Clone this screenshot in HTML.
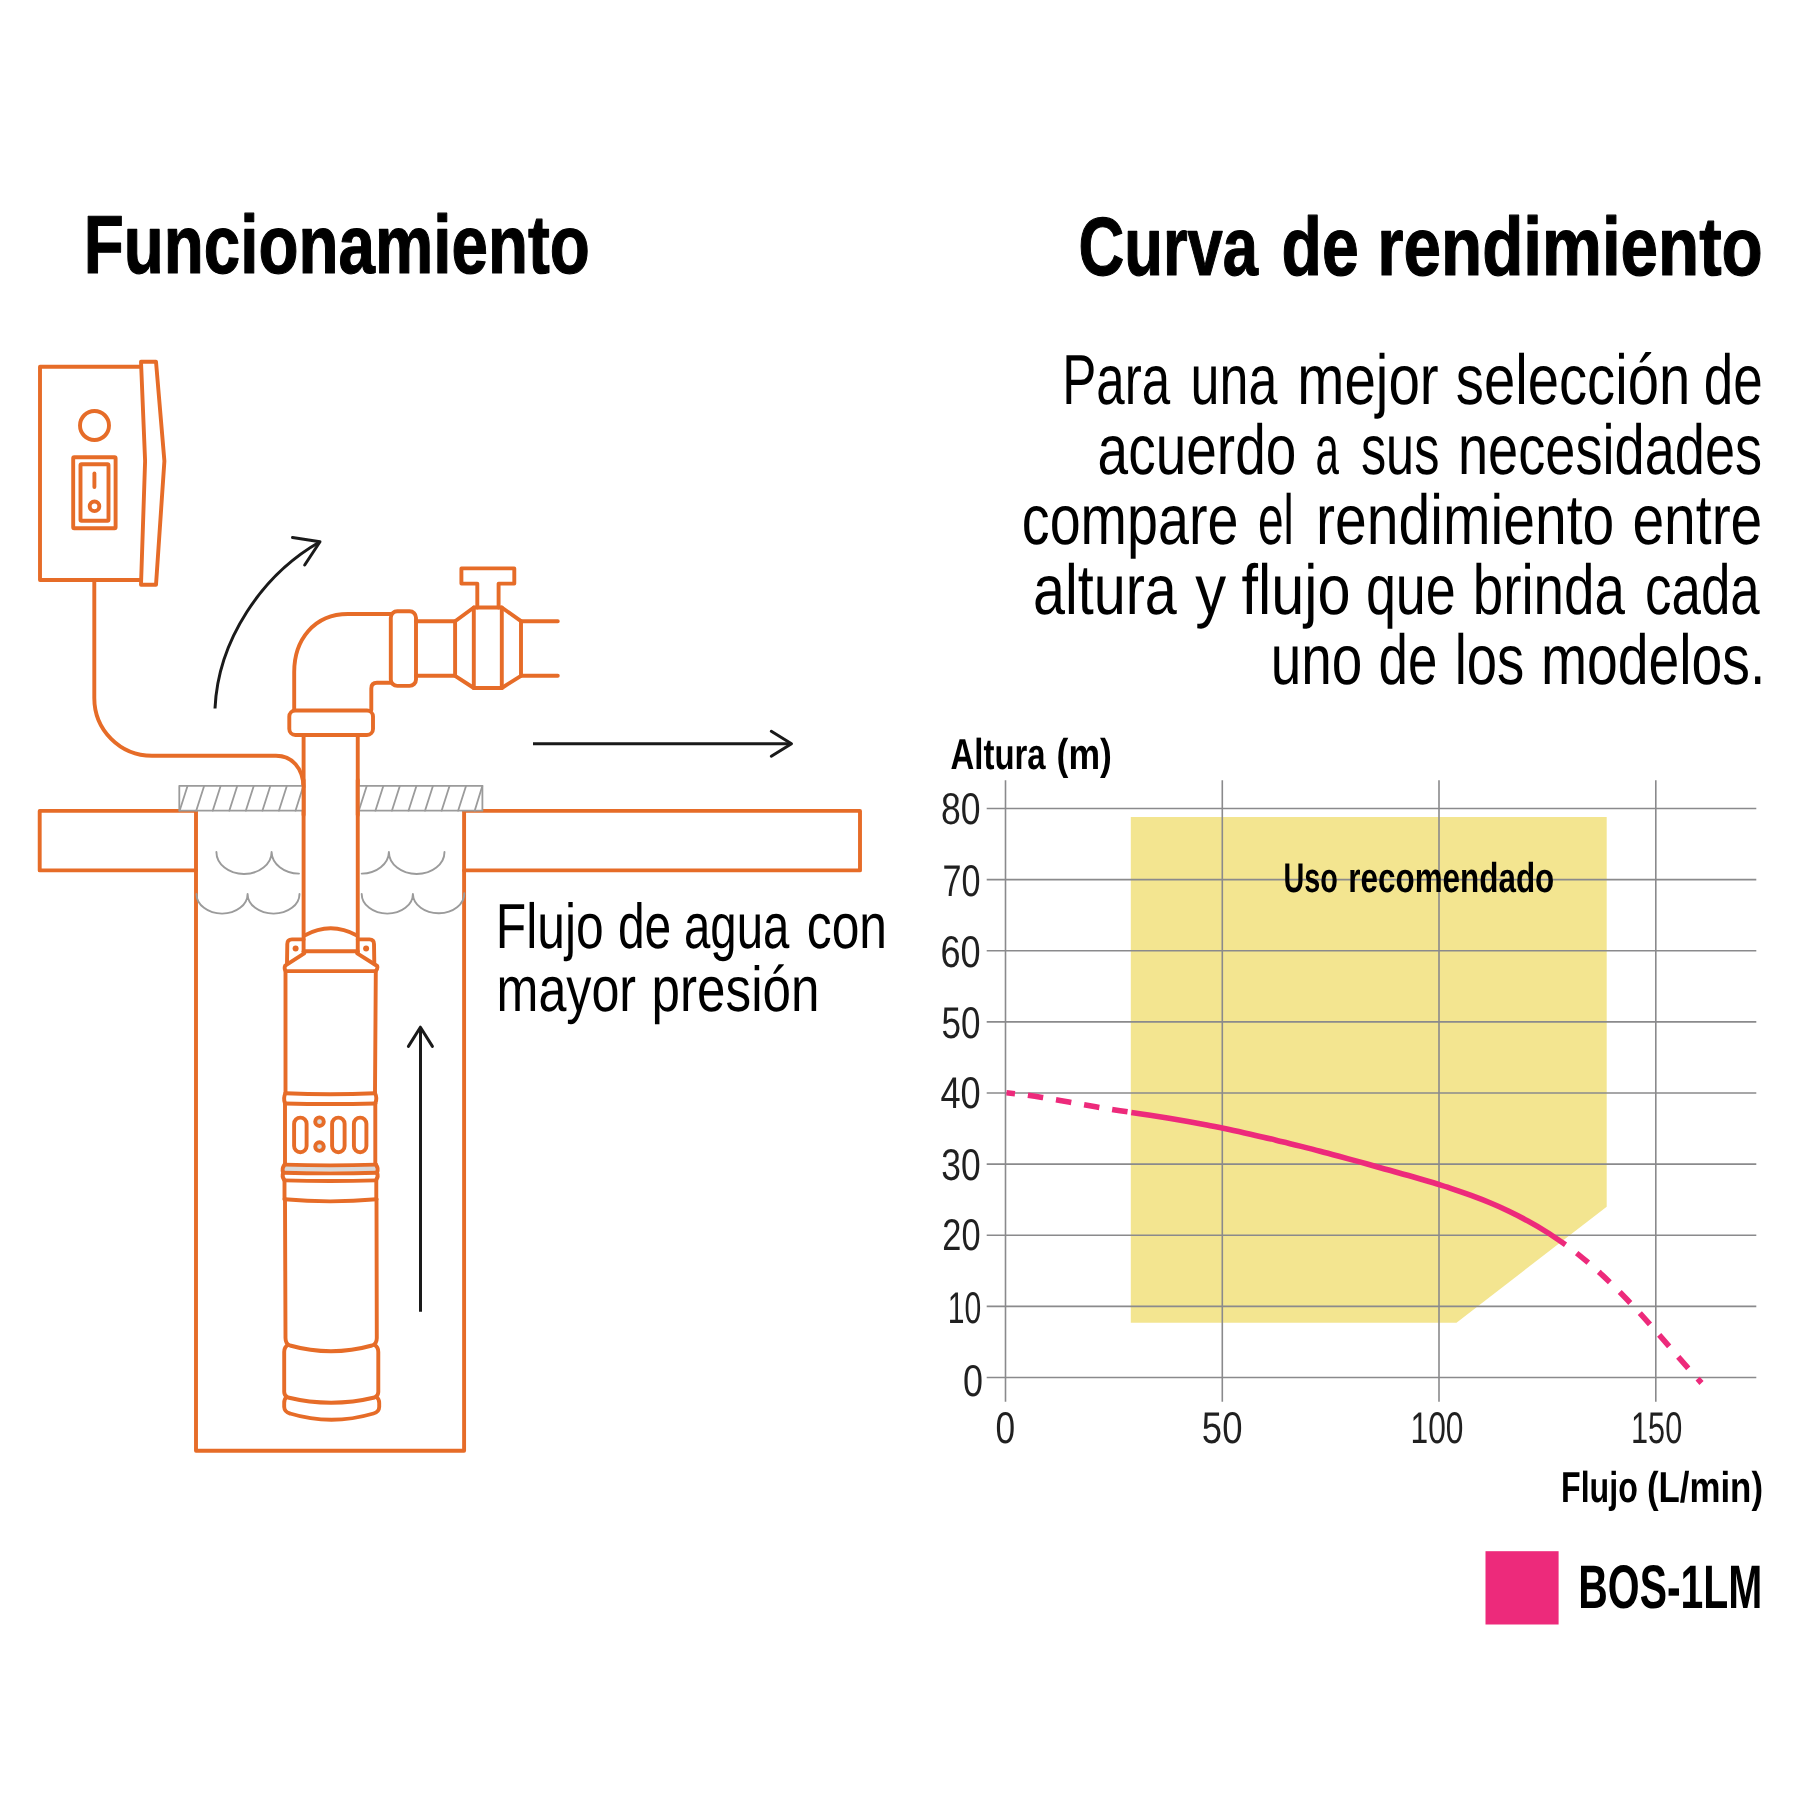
<!DOCTYPE html>
<html lang="es"><head><meta charset="utf-8"><title>Funcionamiento - Curva de rendimiento</title>
<style>html,body{margin:0;padding:0;background:#fff}svg{display:block}text{font-family:"Liberation Sans",sans-serif;fill:#000;text-rendering:geometricPrecision}.o{fill:none;stroke:#E66C28;stroke-width:3.9;stroke-linecap:round;stroke-linejoin:round}.g{fill:none;stroke:#9b9b9b;stroke-width:1.9;stroke-linecap:round;stroke-linejoin:round}.k{fill:none;stroke:#1a1a1a;stroke-width:3.0;stroke-linecap:round;stroke-linejoin:round}.gr{fill:none;stroke:#8a8a8c;stroke-width:1.6}.ax{fill:#231f20}</style></head><body>
<svg width="1800" height="1800" viewBox="0 0 1800 1800">
<rect width="1800" height="1800" fill="#fff"/>
<text y="273.3" font-size="82.5" font-weight="bold" stroke="#000" stroke-width="1.20" stroke-linejoin="round"><tspan x="83.72" textLength="506.05" lengthAdjust="spacingAndGlyphs">Funcionamiento</tspan></text>
<text y="275.2" font-size="82.5" font-weight="bold" stroke="#000" stroke-width="1.20" stroke-linejoin="round"><tspan x="1078.60" textLength="179.40" lengthAdjust="spacingAndGlyphs">Curva</tspan> <tspan x="1281.55" textLength="77.09" lengthAdjust="spacingAndGlyphs">de</tspan> <tspan x="1377.34" textLength="385.43" lengthAdjust="spacingAndGlyphs">rendimiento</tspan></text>
<text y="404.0" font-size="70.8" font-weight="normal"><tspan x="1062.28" textLength="107.91" lengthAdjust="spacingAndGlyphs">Para</tspan> <tspan x="1190.61" textLength="86.77" lengthAdjust="spacingAndGlyphs">una</tspan> <tspan x="1297.32" textLength="141.38" lengthAdjust="spacingAndGlyphs">mejor</tspan> <tspan x="1455.84" textLength="234.32" lengthAdjust="spacingAndGlyphs">selección</tspan> <tspan x="1703.71" textLength="58.91" lengthAdjust="spacingAndGlyphs">de</tspan></text>
<text y="474.0" font-size="70.8" font-weight="normal"><tspan x="1097.58" textLength="198.73" lengthAdjust="spacingAndGlyphs">acuerdo</tspan> <tspan x="1315.44" textLength="23.41" lengthAdjust="spacingAndGlyphs">a</tspan> <tspan x="1360.92" textLength="78.47" lengthAdjust="spacingAndGlyphs">sus</tspan> <tspan x="1458.00" textLength="304.12" lengthAdjust="spacingAndGlyphs">necesidades</tspan></text>
<text y="544.0" font-size="70.8" font-weight="normal"><tspan x="1021.83" textLength="216.54" lengthAdjust="spacingAndGlyphs">compare</tspan> <tspan x="1258.00" textLength="35.85" lengthAdjust="spacingAndGlyphs">el</tspan> <tspan x="1316.04" textLength="298.19" lengthAdjust="spacingAndGlyphs">rendimiento</tspan> <tspan x="1632.44" textLength="129.85" lengthAdjust="spacingAndGlyphs">entre</tspan></text>
<text y="614.0" font-size="70.8" font-weight="normal"><tspan x="1033.00" textLength="143.85" lengthAdjust="spacingAndGlyphs">altura</tspan> <tspan x="1195.31" textLength="30.92" lengthAdjust="spacingAndGlyphs">y</tspan> <tspan x="1241.44" textLength="109.00" lengthAdjust="spacingAndGlyphs">flujo</tspan> <tspan x="1365.88" textLength="89.98" lengthAdjust="spacingAndGlyphs">que</tspan> <tspan x="1472.75" textLength="152.21" lengthAdjust="spacingAndGlyphs">brinda</tspan> <tspan x="1645.01" textLength="114.73" lengthAdjust="spacingAndGlyphs">cada</tspan></text>
<text y="684.0" font-size="70.8" font-weight="normal"><tspan x="1270.70" textLength="91.55" lengthAdjust="spacingAndGlyphs">uno</tspan> <tspan x="1378.54" textLength="58.76" lengthAdjust="spacingAndGlyphs">de</tspan> <tspan x="1454.67" textLength="69.63" lengthAdjust="spacingAndGlyphs">los</tspan> <tspan x="1541.03" textLength="224.31" lengthAdjust="spacingAndGlyphs">modelos.</tspan></text>
<text y="947.9" font-size="63.6" font-weight="normal"><tspan x="495.81" textLength="107.99" lengthAdjust="spacingAndGlyphs">Flujo</tspan> <tspan x="617.95" textLength="53.34" lengthAdjust="spacingAndGlyphs">de</tspan> <tspan x="683.97" textLength="105.33" lengthAdjust="spacingAndGlyphs">agua</tspan> <tspan x="806.86" textLength="80.17" lengthAdjust="spacingAndGlyphs">con</tspan></text>
<text y="1011.0" font-size="63.6" font-weight="normal"><tspan x="496.59" textLength="139.51" lengthAdjust="spacingAndGlyphs">mayor</tspan> <tspan x="651.55" textLength="167.91" lengthAdjust="spacingAndGlyphs">presión</tspan></text>
<g class="o">
<path d="M140.8,366.7 H40 V580 H140.8"/>
<path d="M141,361.7 H156 L164.4,461 L156,584.8 H141 L145.1,461 Z"/>
<circle cx="94.5" cy="425.5" r="14.5"/>
<rect x="73.2" y="457.2" width="42.4" height="71" rx="1"/>
<rect x="80.5" y="464.3" width="28" height="56.4" rx="1"/>
<path d="M94.4,473.5 V487"/>
<circle cx="94.5" cy="506.3" r="4.8"/>
<path d="M94.3,580 V698 C94.3,730 120,755.8 152,755.8 H276 C292,755.8 303,768 303.5,787"/>
<path d="M294.2,710 V672 C294.2,640 314,614 348,614 H392"/>
<path d="M371.3,710 V688.5 Q371.3,682.8 377,682.8 H392"/>
<rect x="390.8" y="611.2" width="25.2" height="74.7" rx="6.5" fill="#fff"/>
<rect x="289.3" y="710.5" width="83.7" height="24.5" rx="6" fill="#fff"/>
<path d="M303.6,735 V953 M357.75,735 V953"/>
<path d="M416,621.2 H455.1 M416,675.8 H455.1"/>
<path d="M455.1,621.2 L473.8,607.5 H501.8 L521,621.2 V675.8 L501.8,688 H473.8 L455.1,675.8 Z"/>
<path d="M473.8,607.5 V688 M501.8,607.5 V688"/>
<path d="M521,621.2 H557.8 M521,675.8 H557.8"/>
<path d="M477.3,607.5 V583.6 H461.4 V568.4 H514.3 V583.6 H498.6 V607.5"/>
<path d="M196,810.9 H39.7 V870.4 H196"/>
<path d="M464.1,810.9 H860 V870.4 H464.1"/>
<path d="M196,810.9 V1450.8 H464.1 V810.9"/>
<path d="M304.5,935.5 Q330.7,921 357,935.5"/>
<path d="M303.6,951.3 H357.75"/>
<path d="M303.6,939.4 H292 Q287.3,939.4 287.3,944 L287,963.5"/>
<path d="M357.75,939.4 H369.5 Q374,939.4 374,944 L374.3,963.5"/>
<path d="M304.2,953.3 L285.2,965.7 Q284,968 285.5,971 V1093"/>
<path d="M357.2,953.3 L377.2,966 Q378,968.5 375.8,971 L375,1093"/>
<path d="M285.5,971.1 H375.8"/>
<path d="M285.5,1093 Q283,1098 285,1103.5 M375,1093 Q377.5,1098 375.3,1103.5"/>
<path d="M285.5,1093.2 Q330,1095.2 375,1093.2 M285,1103.5 Q330,1104.6 375.3,1103.5"/>
<path d="M285,1103.5 V1164.5 M375.3,1103.5 V1164.5"/>
<rect x="294.1" y="1117.6" width="12.5" height="34.7" rx="6.25"/>
<rect x="332.1" y="1117.6" width="12.5" height="34.7" rx="6.25"/>
<rect x="353.9" y="1117.6" width="12.5" height="34.7" rx="6.25"/>
<circle cx="319.5" cy="1121.7" r="4.3" fill="#dcdcdc"/>
<circle cx="319.5" cy="1146.6" r="4.3" fill="#dcdcdc"/>
</g>
<rect x="284" y="1165.5" width="92.5" height="6" fill="#d9d9d9"/>
<g class="o">
<path d="M284.5,1164.6 Q330,1166.2 376,1164.6 M283.2,1172.7 Q330,1174 377,1172.7 M284.5,1180.4 Q330,1181.6 376,1180.4"/>
<path d="M284.5,1164.6 Q281.5,1168.5 283.2,1172.7 Q281.5,1176.5 284.5,1180.4 M376,1164.6 Q378.8,1168.5 377,1172.7 Q378.8,1176.5 376,1180.4"/>
<path d="M284.5,1180.4 V1199.3 M376.3,1180.4 V1199.3"/>
<path d="M284.5,1199.3 Q330,1203.5 376.5,1199.3"/>
<path d="M285,1199.3 L285.5,1338 Q285.5,1344 290,1345.5 Q331,1357 372,1345.5 Q376.8,1344 376.8,1338 L376.5,1199.3"/>
<path d="M288,1345 Q284.2,1347 284.2,1352 V1392 Q284.2,1396 288,1397.5 Q331,1408 374.5,1397.5 Q378.3,1396 378.3,1392 V1352 Q378.3,1347 374.5,1345"/>
<path d="M286.5,1397 Q284.2,1399 284.2,1403 V1407 Q284.5,1412 290,1413.5 Q331,1426 373.5,1413.5 Q379,1412 379.2,1407 V1403 Q379.2,1399 376.5,1397"/>
</g>
<circle cx="295.6" cy="948.4" r="3" fill="#E66C28"/>
<circle cx="366.1" cy="948.4" r="3" fill="#E66C28"/>
<g class="g" style="stroke-width:1.8">
<rect x="179.3" y="785.8" width="124.1" height="24.9" fill="#fff"/>
<path d="M179.6,810.7 L187.6,785.8 M196.2,810.7 L204.2,785.8 M212.7,810.7 L220.7,785.8 M229.3,810.7 L237.3,785.8 M245.8,810.7 L253.8,785.8 M262.4,810.7 L270.4,785.8 M278.9,810.7 L286.9,785.8 M295.5,810.7 L303.4,785.8 "/>
<rect x="358.5" y="785.8" width="123.9" height="24.9" fill="#fff"/>
<path d="M358.8,810.7 L366.8,785.8 M375.4,810.7 L383.4,785.8 M391.9,810.7 L399.9,785.8 M408.5,810.7 L416.5,785.8 M425.0,810.7 L433.0,785.8 M441.6,810.7 L449.6,785.8 M458.1,810.7 L466.1,785.8 M474.7,810.7 L482.4,785.8 "/>
</g>
<g class="o"><path d="M303.6,780 V815 M357.75,780 V815"/></g>
<g class="g">
<path d="M216.4,852 A27.6,22 0 0 0 271.6,852 A27.6,22 0 0 0 299,873.6"/>
<path d="M361.7,873.6 A27.4,22 0 0 0 388.9,852 A27.8,22 0 0 0 444.5,852"/>
<path d="M196.5,893.9 A25.5,19.7 0 0 0 247.6,893.9 A25.9,19.7 0 0 0 299.5,893.9"/>
<path d="M361.7,893.9 A25.6,19.7 0 0 0 412.9,893.9 A25.7,19.7 0 0 0 464.3,893.2"/>
</g>
<g class="k" style="stroke-linecap:butt">
<path d="M215,708.5 C218,640 262,575 319.5,542"/>
<path d="M533,743.7 H790.5"/>
<path d="M420.5,1311.8 V1028"/>
</g>
<g class="k">
<path d="M292.5,537.5 L320,541.7 L304.7,565"/>
<path d="M771.3,731.3 L791.5,743.7 L771.3,756.2"/>
<path d="M408.4,1046.4 L420.4,1027.2 L432.4,1046.4"/>
</g>
<polygon points="1130.8,817 1606.7,817 1606.7,1206.7 1456.5,1322.8 1130.8,1322.8" fill="#F3E590"/>
<g class="gr">
<path d="M986.7,1377.5 H1756.3 M986.7,1306.4 H1756.3 M986.7,1235.2 H1756.3 M986.7,1164.1 H1756.3 M986.7,1093.0 H1756.3 M986.7,1021.9 H1756.3 M986.7,950.8 H1756.3 M986.7,879.6 H1756.3 M986.7,808.5 H1756.3 M1005.5,780.3 V1401.7 M1222.3,780.3 V1401.7 M1439.0,780.3 V1401.7 M1655.8,780.3 V1401.7 "/>
</g>
<text y="824.4" font-size="44.5" font-weight="normal" class="ax" style="filter:grayscale(1)"><tspan x="941.07" textLength="39.55" lengthAdjust="spacingAndGlyphs">80</tspan></text>
<text y="895.5" font-size="44.5" font-weight="normal" class="ax" style="filter:grayscale(1)"><tspan x="942.61" textLength="37.99" lengthAdjust="spacingAndGlyphs">70</tspan></text>
<text y="966.7" font-size="44.5" font-weight="normal" class="ax" style="filter:grayscale(1)"><tspan x="940.56" textLength="40.15" lengthAdjust="spacingAndGlyphs">60</tspan></text>
<text y="1037.7" font-size="44.5" font-weight="normal" class="ax" style="filter:grayscale(1)"><tspan x="941.57" textLength="38.97" lengthAdjust="spacingAndGlyphs">50</tspan></text>
<text y="1108.2" font-size="44.5" font-weight="normal" class="ax" style="filter:grayscale(1)"><tspan x="940.41" textLength="40.25" lengthAdjust="spacingAndGlyphs">40</tspan></text>
<text y="1179.5" font-size="44.5" font-weight="normal" class="ax" style="filter:grayscale(1)"><tspan x="941.31" textLength="39.34" lengthAdjust="spacingAndGlyphs">30</tspan></text>
<text y="1249.5" font-size="44.5" font-weight="normal" class="ax" style="filter:grayscale(1)"><tspan x="942.36" textLength="38.26" lengthAdjust="spacingAndGlyphs">20</tspan></text>
<text y="1323.0" font-size="44.5" font-weight="normal" class="ax" style="filter:grayscale(1)"><tspan x="947.74" textLength="33.51" lengthAdjust="spacingAndGlyphs">10</tspan></text>
<text y="1395.7" font-size="44.5" font-weight="normal" class="ax" style="filter:grayscale(1)"><tspan x="962.95" textLength="19.98" lengthAdjust="spacingAndGlyphs">0</tspan></text>
<text y="1443.4" font-size="44.5" font-weight="normal" class="ax" style="filter:grayscale(1)"><tspan x="995.43" textLength="19.62" lengthAdjust="spacingAndGlyphs">0</tspan></text>
<text y="1443.4" font-size="44.5" font-weight="normal" class="ax" style="filter:grayscale(1)"><tspan x="1201.84" textLength="40.60" lengthAdjust="spacingAndGlyphs">50</tspan></text>
<text y="1443.4" font-size="44.5" font-weight="normal" class="ax" style="filter:grayscale(1)"><tspan x="1410.58" textLength="52.92" lengthAdjust="spacingAndGlyphs">100</tspan></text>
<text y="1443.4" font-size="44.5" font-weight="normal" class="ax" style="filter:grayscale(1)"><tspan x="1631.07" textLength="51.12" lengthAdjust="spacingAndGlyphs">150</tspan></text>
<text y="769.0" font-size="43.3" font-weight="bold" style="filter:grayscale(1)"><tspan x="950.54" textLength="95.07" lengthAdjust="spacingAndGlyphs">Altura</tspan> <tspan x="1056.61" textLength="55.32" lengthAdjust="spacingAndGlyphs">(m)</tspan></text>
<text y="1501.9" font-size="43.3" font-weight="bold" style="filter:grayscale(1)"><tspan x="1561.05" textLength="76.79" lengthAdjust="spacingAndGlyphs">Flujo</tspan> <tspan x="1646.91" textLength="116.09" lengthAdjust="spacingAndGlyphs">(L/min)</tspan></text>
<text y="891.7" font-size="41.6" font-weight="bold" style="filter:grayscale(1)"><tspan x="1283.46" textLength="54.39" lengthAdjust="spacingAndGlyphs">Uso</tspan> <tspan x="1348.31" textLength="205.96" lengthAdjust="spacingAndGlyphs">recomendado</tspan></text>
<g fill="none" stroke="#ED2A7B" stroke-width="5.6">
<path d="M1006.5,1092.8 C1009.5,1093.1 1018.4,1094.0 1024.3,1094.7 C1030.3,1095.5 1036.2,1096.4 1042.2,1097.4 C1048.1,1098.3 1054.0,1099.4 1060.0,1100.4 C1065.9,1101.5 1071.9,1102.6 1077.8,1103.7 C1083.8,1104.7 1089.7,1105.8 1095.6,1106.8 C1101.6,1107.8 1107.5,1108.7 1113.5,1109.7 C1119.4,1110.6 1128.3,1111.9 1131.3,1112.4" stroke-dasharray="15.5 13" stroke-dashoffset="7"/>
<path d="M1131.3,1112.4 C1134.4,1112.9 1143.9,1114.3 1150.2,1115.2 C1156.5,1116.2 1162.8,1117.2 1169.1,1118.2 C1175.3,1119.2 1181.6,1120.3 1187.9,1121.4 C1194.2,1122.5 1200.5,1123.7 1206.8,1125.0 C1213.1,1126.2 1219.4,1127.5 1225.7,1128.8 C1232.0,1130.1 1238.3,1131.5 1244.6,1132.9 C1250.9,1134.3 1257.2,1135.7 1263.4,1137.2 C1269.7,1138.6 1276.0,1140.2 1282.3,1141.7 C1288.6,1143.2 1294.9,1144.8 1301.2,1146.4 C1307.5,1148.0 1313.8,1149.6 1320.1,1151.3 C1326.4,1152.9 1332.7,1154.6 1339.0,1156.3 C1345.3,1158.0 1351.5,1159.7 1357.8,1161.4 C1364.1,1163.2 1370.4,1164.9 1376.7,1166.7 C1383.0,1168.4 1389.3,1170.2 1395.6,1172.0 C1401.9,1173.7 1408.2,1175.5 1414.5,1177.3 C1420.8,1179.1 1427.1,1180.9 1433.4,1182.8 C1439.6,1184.8 1445.9,1186.7 1452.2,1188.8 C1458.5,1190.9 1464.8,1193.0 1471.1,1195.4 C1477.4,1197.7 1483.7,1200.1 1490.0,1202.8 C1496.3,1205.4 1502.6,1208.2 1508.9,1211.2 C1515.2,1214.2 1521.5,1217.4 1527.7,1220.9 C1534.0,1224.3 1540.3,1228.0 1546.6,1232.0 C1552.9,1236.0 1562.4,1242.6 1565.5,1244.7"/>
<path d="M1565.5,1244.7 C1567.6,1246.3 1573.7,1250.8 1577.9,1254.1 C1582.0,1257.4 1586.1,1260.8 1590.2,1264.3 C1594.3,1267.9 1598.5,1271.6 1602.6,1275.4 C1606.7,1279.2 1610.8,1283.2 1615.0,1287.2 C1619.1,1291.3 1623.2,1295.5 1627.3,1299.8 C1631.4,1304.1 1635.6,1308.5 1639.7,1313.0 C1643.8,1317.5 1647.9,1322.1 1652.0,1326.8 C1656.2,1331.4 1660.3,1336.2 1664.4,1340.9 C1668.5,1345.7 1672.7,1350.5 1676.8,1355.2 C1680.9,1359.9 1685.0,1364.7 1689.1,1369.3 C1693.3,1373.9 1699.4,1380.7 1701.5,1383.0" stroke-dasharray="15.2 13.9" stroke-dashoffset="15.2"/>
</g>
<rect x="1485.5" y="1551.2" width="73.1" height="73.3" fill="#ED2A7B"/>
<text y="1607.9" font-size="61.6" font-weight="bold"><tspan x="1578.28" textLength="184.19" lengthAdjust="spacingAndGlyphs">BOS-1LM</tspan></text>
</svg></body></html>
